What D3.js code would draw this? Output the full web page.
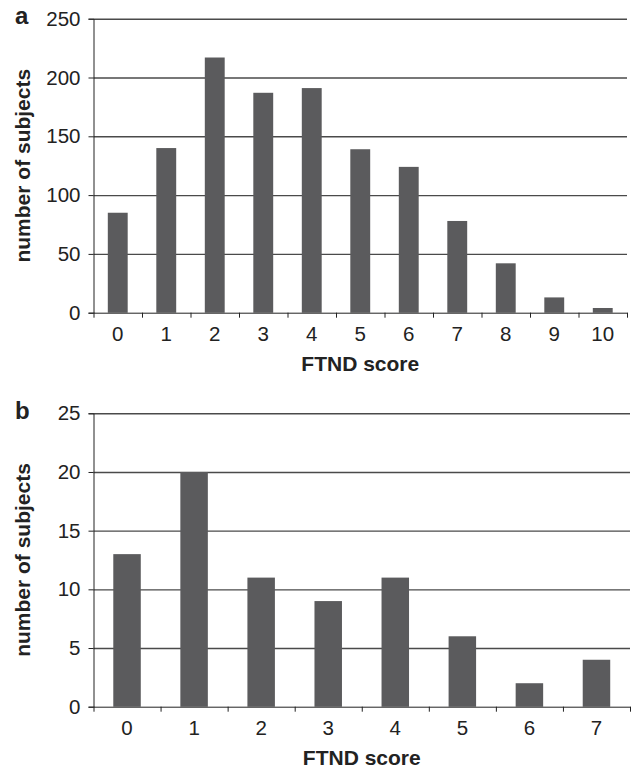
<!DOCTYPE html>
<html>
    <head>
        <meta charset="utf-8">
        <title>FTND score histograms</title>
        <script src="https://d3js.org/d3.v7.min.js"></script>
        <style>
            body { margin: 0; background: white; }
            text { font-family: "Liberation Sans", Arial, sans-serif; fill: #222; }
            .tick-label { font-size: 20.5px; }
            .axis-title { font-size: 21px; font-weight: bold; }
            .panel-letter { font-size: 24px; font-weight: bold; }
        </style>
    </head>
    <body>
        <svg id='canvas' width=633 height=769></svg>
        <script>
            // colors
            const barColor = '#5b5b5d'
            const gridColor = '#4a4a4a'
            const axisColor = '#222'

            // panel a data
            const scoresA = ['0', '1', '2', '3', '4', '5', '6', '7', '8', '9', '10']
            const countsA = [85, 140, 217, 187, 191, 139, 124, 78, 42, 13, 4]
            const yTicksA = [0, 50, 100, 150, 200, 250]

            // panel b data
            const scoresB = ['0', '1', '2', '3', '4', '5', '6', '7']
            const countsB = [13, 20, 11, 9, 11, 6, 2, 4]
            const yTicksB = [0, 5, 10, 15, 20, 25]

            const svg = d3.select('#canvas')

            // draws one bar panel; box is the plot area in pixels
            const drawPanel = (letter, scores, counts, yTicks, box) => {
                const g = svg.append('g')
                const yMax = d3.max(yTicks)
                const yScale = d3.scaleLinear().domain([0, yMax]).range([box.bottom, box.top])
                const xEdges = d3.scaleLinear().domain([0, scores.length]).range([box.left, box.right])
                const xBand = d3.scaleBand().domain(scores).range([box.left, box.right])
                const barWidth = xBand.step() * 0.41

                // gridlines
                g.append('g')
                    .attr('transform', `translate(${box.left}, 0)`)
                    .call(d3.axisLeft(yScale).tickValues(yTicks.filter(t => t > 0))
                        .tickSize(-(box.right - box.left)).tickFormat(''))
                    .call(a => a.select('.domain').remove())
                    .call(a => a.selectAll('line').attr('stroke', gridColor).attr('stroke-width', 1.4))

                // bars
                g.selectAll('rect.bar')
                    .data(counts)
                    .enter()
                    .append('rect')
                        .classed('bar', true)
                        .attr('x', (d, i) => xBand(scores[i]) + xBand.bandwidth() / 2 - barWidth / 2)
                        .attr('y', d => yScale(d))
                        .attr('width', barWidth)
                        .attr('height', d => yScale(0) - yScale(d))
                        .attr('fill', barColor)

                // y axis
                const yAxis = g.append('g')
                    .attr('transform', `translate(${box.left}, 0)`)
                    .call(d3.axisLeft(yScale).tickValues(yTicks).tickSize(5).tickPadding(8))
                yAxis.selectAll('text').classed('tick-label', true).attr('font-size', null).attr('font-family', null)
                yAxis.selectAll('line, path').attr('stroke', axisColor)

                // x axis: tick marks at category edges
                const xAxis = g.append('g')
                    .attr('transform', `translate(0, ${box.bottom})`)
                    .call(d3.axisBottom(xEdges).tickValues(d3.range(scores.length + 1))
                        .tickSize(5).tickSizeOuter(0).tickFormat(''))
                xAxis.selectAll('line, path').attr('stroke', axisColor)

                // x labels at category centers
                const xLabels = g.append('g')
                    .attr('transform', `translate(0, ${box.bottom})`)
                    .call(d3.axisBottom(xBand).tickSize(0).tickPadding(13.5))
                xLabels.select('.domain').remove()
                xLabels.selectAll('text').classed('tick-label', true).attr('font-size', null).attr('font-family', null)

                // titles
                g.append('text').text('FTND score')
                    .attr('x', (box.left + box.right) / 2)
                    .attr('y', box.bottom + 58)
                    .attr('text-anchor', 'middle')
                    .classed('axis-title', true)

                g.append('text').text('number of subjects')
                    .attr('transform', `translate(30, ${(box.top + box.bottom) / 2}) rotate(-90)`)
                    .attr('text-anchor', 'middle')
                    .classed('axis-title', true)

                g.append('text').text(letter)
                    .attr('x', 15)
                    .attr('y', box.top + 5.5)
                    .classed('panel-letter', true)
            }

            drawPanel('a', scoresA, countsA, yTicksA, { left: 93.5, right: 627, top: 18.7, bottom: 312.7 })
            drawPanel('b', scoresB, countsB, yTicksB, { left: 93.5, right: 630, top: 413.3, bottom: 706.7 })
        </script>
    </body>
</html>
